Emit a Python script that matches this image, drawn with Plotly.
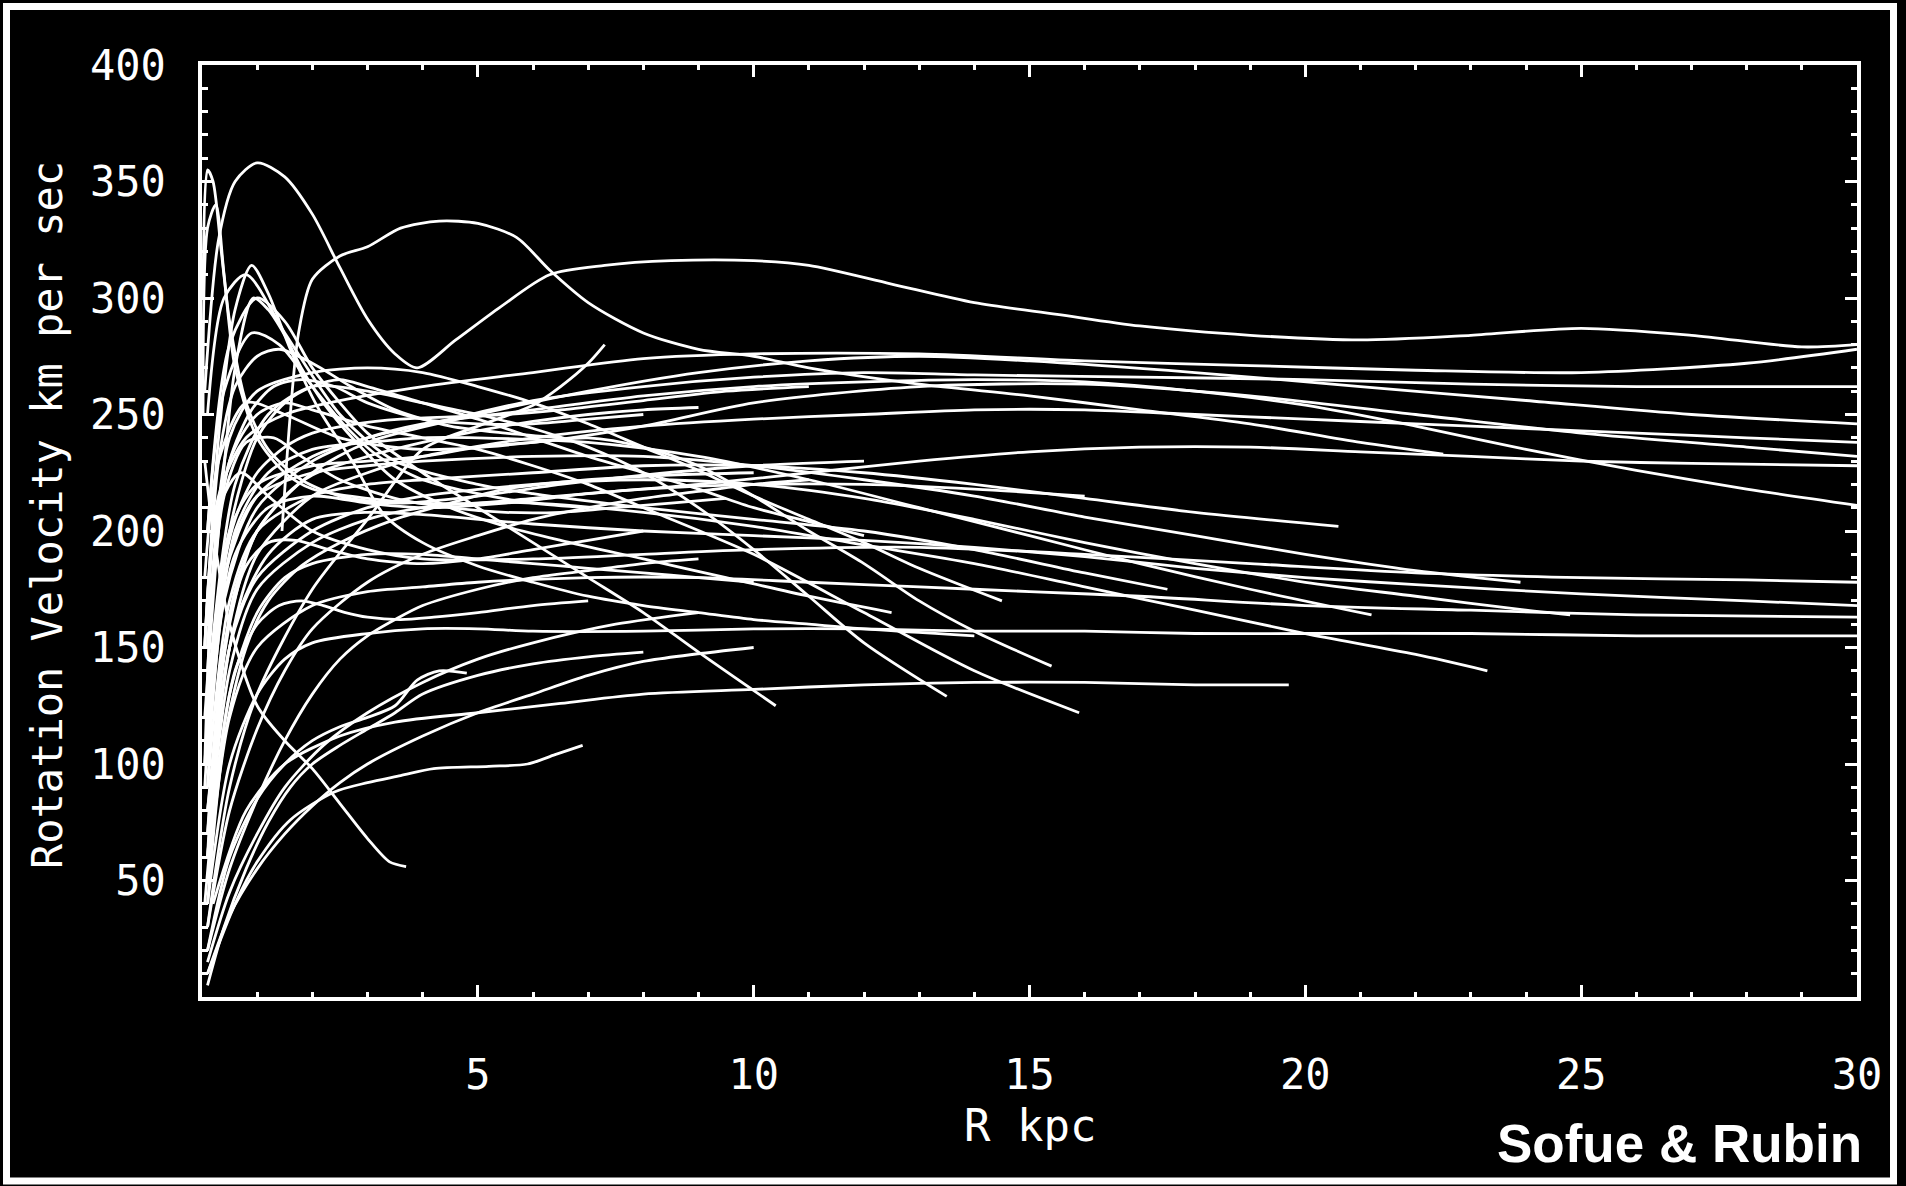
import plotly.graph_objects as go

# ---------------- data: rotation curves (R in kpc, V in km/s) ----------------
radius_01 = [0.05, 0.3, 0.6, 1.0, 1.5, 2.0, 2.5, 3.0, 3.5, 3.9, 4.6, 5.4, 6.3, 7.3, 8.5, 10, 11, 12.5, 14, 15.5, 17, 19, 21, 23, 25, 27, 29, 30]
velocity_01 = [260, 325, 350, 358, 352, 336, 313, 291, 276, 270, 282, 296, 310, 314, 316, 316, 314, 306, 298, 293, 288, 284, 282, 284, 287, 284, 279, 280]
radius_02 = [0.05, 0.3, 0.8, 1.5, 2.5, 4, 6, 8, 10, 13, 16, 19, 22, 25, 28, 30]
velocity_02 = [150, 215, 240, 250, 256, 262, 268, 274, 276, 276, 273, 271, 269, 268, 272, 278]
radius_03 = [0.05, 0.4, 1, 2, 3, 4.5, 6, 8, 10, 12, 14, 17, 20, 23, 26, 30]
velocity_03 = [100, 180, 215, 232, 240, 248, 256, 262, 266, 268, 267, 266, 265, 263, 262, 262]
radius_04 = [0.1, 0.5, 1, 2, 3, 5, 7, 9, 11, 13, 15, 18, 21, 24, 27, 30]
velocity_04 = [80, 160, 200, 225, 238, 250, 260, 268, 273, 275, 273, 268, 262, 256, 250, 246]
radius_05 = [0.1, 0.5, 1, 2, 3, 4, 6, 8, 10, 12, 14, 16, 18, 20, 22, 24, 26, 28, 30]
velocity_05 = [60, 150, 190, 215, 225, 232, 240, 245, 248, 250, 252, 252, 250, 248, 246, 244, 242, 240, 238]
radius_06 = [0.05, 0.3, 0.8, 1.5, 2.5, 4, 6, 8, 10, 13, 16, 19, 22, 25, 28, 30]
velocity_06 = [180, 230, 255, 250, 240, 235, 238, 245, 255, 262, 263, 258, 250, 242, 236, 232]
radius_07 = [0.1, 0.6, 1.2, 2, 3, 4, 5.5, 7, 9, 11, 13, 15, 17, 19, 21, 23, 25, 27, 30]
velocity_07 = [120, 190, 210, 215, 212, 210, 212, 216, 220, 225, 230, 234, 236, 236, 234, 232, 230, 229, 228]
radius_08 = [0.1, 0.4, 1, 2, 3, 4, 6, 8, 10, 12, 14, 16, 18, 20, 22, 24, 26, 28, 30]
velocity_08 = [90, 170, 210, 230, 240, 246, 252, 258, 262, 264, 265, 264, 260, 254, 245, 235, 226, 218, 211]
radius_09 = [0.05, 0.3, 0.7, 1.2, 2, 3, 4, 6, 8, 10, 13, 16, 19, 22, 25, 28, 30]
velocity_09 = [150, 210, 225, 215, 200, 192, 188, 188, 190, 192, 193, 190, 186, 182, 180, 179, 178]
radius_10 = [0.1, 0.5, 1, 2, 3, 4, 5, 7, 9, 11, 13, 15, 17, 20, 23, 26, 30]
velocity_10 = [50, 120, 150, 168, 174, 176, 178, 180, 180, 178, 176, 174, 172, 168, 166, 164, 163]
radius_11 = [0.1, 0.5, 1, 1.5, 2, 3, 4, 5, 6, 8, 10, 12, 14, 16, 18, 20, 23, 26, 30]
velocity_11 = [40, 100, 130, 145, 152, 156, 158, 158, 157, 157, 158, 158, 157, 157, 156, 156, 156, 155, 155]
radius_12 = [0.1, 0.6, 1.2, 2, 3, 4, 6, 8, 10, 12, 14, 16, 18, 20, 22, 25, 28, 30]
velocity_12 = [80, 160, 190, 205, 208, 207, 203, 200, 198, 196, 193, 189, 184, 180, 177, 173, 170, 168]
radius_13 = [0.1, 0.5, 1, 2, 3, 4, 5, 6, 8, 10, 12, 14, 16, 18, 20, 22, 23.3]
velocity_13 = [60, 140, 175, 195, 205, 210, 212, 212, 208, 202, 194, 186, 176, 166, 156, 147, 140]
radius_14 = [0.1, 0.5, 1, 2, 3, 4, 6, 8, 10, 12, 14, 16, 18, 20, 22, 24, 24.8]
velocity_14 = [70, 150, 180, 200, 210, 215, 220, 222, 220, 214, 205, 195, 186, 178, 172, 166, 164]
radius_15 = [0.1, 0.6, 1.2, 2, 3, 4, 5, 7, 9, 11, 13, 15, 17, 19, 21.2]
velocity_15 = [100, 200, 225, 235, 238, 240, 240, 238, 232, 222, 210, 198, 186, 175, 164]
radius_16 = [0.1, 0.5, 1, 2, 3, 4, 6, 8, 10, 12, 14, 16, 18, 20.6]
velocity_16 = [90, 170, 200, 215, 220, 222, 225, 228, 228, 225, 220, 214, 208, 202]
radius_17 = [0.2, 0.8, 1.5, 2.5, 3.5, 5, 6.5, 8, 10, 12, 14, 16, 18, 19.7]
velocity_17 = [40, 80, 100, 112, 118, 122, 126, 130, 132, 134, 135, 135, 134, 134]
radius_18 = [0.1, 0.5, 1, 1.5, 2, 3, 4, 5, 6, 7, 8, 10, 12, 14, 15.9]
velocity_18 = [150, 230, 250, 255, 252, 245, 240, 235, 228, 220, 210, 190, 165, 140, 122]
radius_19 = [0.1, 0.5, 1, 2, 3, 4, 5, 6, 7, 8, 9, 10, 11, 12, 13, 14, 15.4]
velocity_19 = [120, 200, 220, 228, 230, 232, 236, 238, 240, 236, 228, 215, 200, 186, 170, 157, 142]
radius_20 = [0.1, 0.6, 1.2, 2, 3, 4, 5, 6, 7, 8, 9, 10, 11, 12, 13.5]
velocity_20 = [130, 220, 250, 262, 260, 255, 250, 244, 236, 225, 210, 192, 172, 152, 129]
radius_21 = [0.1, 0.5, 1, 1.5, 2, 2.5, 3, 4, 5, 6, 7, 8, 9, 10.4]
velocity_21 = [200, 280, 300, 290, 270, 255, 242, 225, 210, 195, 180, 165, 148, 125]
radius_22 = [0.1, 0.5, 1, 2, 3, 4, 6, 8, 10, 12, 14, 16, 18, 20, 22, 23.9]
velocity_22 = [110, 190, 215, 225, 228, 230, 232, 232, 228, 222, 215, 206, 198, 190, 183, 178]
radius_23 = [0.1, 0.4, 0.8, 1.5, 2.5, 3.5, 5, 6, 8, 10, 12, 14, 16, 17.5]
velocity_23 = [250, 300, 310, 285, 250, 230, 220, 216, 210, 205, 200, 192, 182, 175]
radius_24 = [0.05, 0.2, 0.5, 1, 1.5, 2, 2.5, 3, 3.4, 3.7]
velocity_24 = [230, 200, 160, 125, 110, 98, 83, 68, 58, 56]
radius_25 = [0.1, 0.5, 1.0, 1.5, 2.0, 2.5, 3.0, 3.5, 3.9, 4.3, 4.8]
velocity_25 = [20, 60, 85, 100, 110, 116, 120, 125, 136, 140, 139]
radius_26 = [0.1, 0.6, 1.0, 1.6, 2.4, 3.0, 3.6, 4.2, 5.2, 5.9, 6.4, 6.9]
velocity_26 = [10, 40, 58, 76, 88, 92, 95, 98, 99, 100, 104, 108]
radius_27 = [0.1, 0.5, 1, 2, 3, 4, 5, 6, 6.5, 7, 7.3]
velocity_27 = [30, 90, 130, 175, 205, 235, 245, 254, 262, 272, 280]
radius_28 = [0.05, 0.3, 0.6, 0.9, 1.2, 1.6, 2.1, 2.75, 3.3, 4, 5, 6, 7, 8, 9, 10, 11, 12, 14]
velocity_28 = [150, 240, 295, 314, 302, 278, 253, 229, 207, 195, 185, 178, 172, 168, 165, 162, 160, 158, 155]
radius_29 = [0.05, 0.3, 0.6, 0.93, 1.2, 1.5, 1.8, 2.2, 2.8, 3.5, 4.5, 5.5, 6.5, 8, 9.5, 11, 12.5]
velocity_29 = [120, 200, 270, 300, 295, 284, 270, 255, 238, 222, 210, 202, 196, 188, 180, 172, 165]
radius_30 = [0.02, 0.1, 0.2, 0.35, 0.5, 0.8, 1.2, 1.8, 2.5, 3.5, 5, 6.5, 8, 10, 12]
velocity_30 = [300, 355, 350, 320, 290, 255, 235, 222, 215, 212, 215, 220, 224, 228, 230]
radius_31 = [0.02, 0.1, 0.25, 0.4, 0.6, 1, 1.5, 2, 3, 4, 5, 6, 8, 10, 12, 14, 16]
velocity_31 = [250, 330, 340, 310, 270, 240, 225, 218, 214, 212, 212, 214, 218, 220, 220, 218, 215]
radius_32 = [0.1, 0.4, 0.8, 1.2, 1.8, 2.5, 3.5, 4.5, 5.5, 7, 8.5, 10]
velocity_32 = [40, 110, 150, 170, 185, 195, 205, 212, 218, 222, 224, 225]
radius_33 = [0.1, 0.3, 0.6, 1, 1.5, 2, 3, 4, 5, 6, 7, 8, 9]
velocity_33 = [60, 130, 175, 200, 215, 224, 232, 238, 243, 247, 250, 252, 253]
radius_34 = [0.1, 0.5, 1, 1.5, 2, 2.5, 3, 4, 5, 6, 7, 8, 9, 10, 11, 12]
velocity_34 = [100, 200, 240, 255, 262, 265, 262, 255, 248, 240, 232, 225, 218, 210, 204, 198]
radius_35 = [0.05, 0.2, 0.5, 0.9, 1.3, 1.8, 2.4, 3, 4, 5, 6, 7, 8]
velocity_35 = [100, 180, 230, 252, 262, 265, 262, 255, 248, 246, 246, 248, 250]
radius_36 = [0.1, 0.5, 1, 1.5, 2, 3, 4, 5, 6, 7, 8, 9, 10, 11]
velocity_36 = [30, 80, 115, 140, 158, 178, 190, 198, 205, 210, 214, 217, 220, 222]
radius_37 = [0.1, 0.4, 0.8, 1.2, 1.7, 2.3, 3, 4, 5, 6, 7, 8]
velocity_37 = [70, 150, 185, 195, 196, 192, 188, 186, 188, 192, 196, 200]
radius_38 = [0.1, 0.5, 1, 1.5, 2, 2.5, 3, 3.5, 4, 5, 6, 7, 8, 9]
velocity_38 = [20, 55, 85, 110, 130, 145, 155, 162, 168, 175, 180, 183, 186, 188]
radius_39 = [0.1, 0.4, 0.8, 1.3, 1.8, 2.5, 3.5, 4.5, 5.5, 6.5, 7.5, 8.5, 9.5]
velocity_39 = [140, 215, 238, 240, 232, 222, 214, 210, 208, 208, 210, 212, 214]
radius_40 = [0.1, 0.3, 0.6, 1, 1.4, 2, 2.7, 3.5, 4.5, 5.5, 6.5]
velocity_40 = [160, 230, 262, 275, 278, 272, 262, 252, 245, 242, 240]
radius_41 = [0.1, 0.5, 1.0, 1.5, 2.0, 3.0, 4.0, 5.0, 6.0, 7.0, 8.0, 9.0, 10.0]
velocity_41 = [50, 130, 165, 180, 186, 190, 190, 188, 186, 184, 182, 180, 178]
radius_42 = [0.1, 0.5, 1.0, 1.5, 2.2, 3.0, 4.0, 5.0, 6.0, 7.5, 9.0]
velocity_42 = [15, 45, 70, 90, 108, 122, 135, 145, 152, 160, 165]
radius_43 = [0.1, 0.4, 0.9, 1.4, 2.0, 2.6, 3.2, 4.0, 5.0, 6.0, 7.0]
velocity_43 = [200, 260, 285, 280, 262, 245, 232, 222, 216, 212, 210]
radius_44 = [0.05, 0.3, 0.6, 1.0, 1.5, 2.0, 2.8, 3.6, 4.5, 5.5, 6.5, 8.0, 9.5, 11.0]
velocity_44 = [90, 170, 205, 225, 236, 242, 246, 248, 249, 250, 252, 256, 260, 262]
radius_45 = [0.1, 0.5, 1, 1.5, 2, 2.5, 3, 4, 5, 6, 7, 8, 10]
velocity_45 = [10, 35, 55, 70, 82, 92, 100, 112, 122, 130, 138, 144, 150]
radius_46 = [0.1, 0.4, 0.8, 1.2, 1.6, 2.0, 2.5, 3.0, 3.5, 4.0, 5.0, 6.0, 7.0, 8.0]
velocity_46 = [5, 30, 55, 75, 90, 100, 108, 115, 122, 130, 138, 143, 146, 148]
radius_47 = [0.05, 0.3, 0.6, 1.0, 1.4, 1.8, 2.2, 2.6, 3.0, 3.6, 4.2, 5.0, 6.0, 7.0]
velocity_47 = [40, 100, 140, 160, 168, 170, 168, 165, 163, 162, 163, 165, 168, 170]
radius_48 = [0.1, 0.5, 1, 2, 3, 4, 5, 6, 7, 8, 9, 10, 11, 12, 13, 14.5]
velocity_48 = [150, 240, 260, 268, 270, 268, 262, 255, 246, 236, 226, 215, 205, 195, 184, 170]
radius_49 = [1.45, 1.6, 1.75, 2.0, 2.5, 3.0, 3.6, 4.3, 5.0, 5.7, 6.3, 7.0, 8.0, 9.0, 10, 11, 13, 15, 17, 19, 21, 22.5]
velocity_49 = [200, 250, 285, 308, 318, 322, 330, 333, 332, 326, 312, 298, 285, 278, 275, 270, 263, 258, 252, 246, 238, 233]

x_tick_values = [5, 10, 15, 20, 25, 30]
y_tick_values = [50, 100, 150, 200, 250, 300, 350, 400]
x_range = [0, 30]
y_range = [0, 400]

curves = [
    (radius_01, velocity_01), (radius_02, velocity_02), (radius_03, velocity_03), (radius_04, velocity_04),
    (radius_05, velocity_05), (radius_06, velocity_06), (radius_07, velocity_07), (radius_08, velocity_08),
    (radius_09, velocity_09), (radius_10, velocity_10), (radius_11, velocity_11), (radius_12, velocity_12),
    (radius_13, velocity_13), (radius_14, velocity_14), (radius_15, velocity_15), (radius_16, velocity_16),
    (radius_17, velocity_17), (radius_18, velocity_18), (radius_19, velocity_19), (radius_20, velocity_20),
    (radius_21, velocity_21), (radius_22, velocity_22), (radius_23, velocity_23), (radius_24, velocity_24),
    (radius_25, velocity_25), (radius_26, velocity_26), (radius_27, velocity_27), (radius_28, velocity_28),
    (radius_29, velocity_29), (radius_30, velocity_30), (radius_31, velocity_31), (radius_32, velocity_32),
    (radius_33, velocity_33), (radius_34, velocity_34), (radius_35, velocity_35), (radius_36, velocity_36),
    (radius_37, velocity_37), (radius_38, velocity_38), (radius_39, velocity_39), (radius_40, velocity_40),
    (radius_41, velocity_41), (radius_42, velocity_42), (radius_43, velocity_43), (radius_44, velocity_44),
    (radius_45, velocity_45), (radius_46, velocity_46), (radius_47, velocity_47), (radius_48, velocity_48),
    (radius_49, velocity_49),
]

# ---------------- figure ----------------
W, H = 1906, 1186
L, R, T, B = 202, 49, 65, 189
PW, PH = W - L - R, H - T - B

def px_x(p):
    return (p - L) / PW

def px_y(p):
    return (H - B - p) / PH

fig = go.Figure()
for rr, vv in curves:
    fig.add_trace(go.Scatter(
        x=rr, y=vv, mode="lines",
        line=dict(color="white", width=2.8, shape="spline", smoothing=0.8),
        hoverinfo="skip", showlegend=False,
    ))

axis_font = dict(family="DejaVu Sans Mono", size=42, color="white")

fig.update_layout(
    width=W, height=H,
    margin=dict(l=L, r=R, t=T, b=B),
    paper_bgcolor="#000000",
    plot_bgcolor="#000000",
    showlegend=False,
    xaxis=dict(
        range=x_range, showgrid=False, zeroline=False,
        showline=True, linecolor="white", linewidth=3.5, mirror="allticks",
        ticks="inside", ticklen=12, tickwidth=2.5, tickcolor="white",
        tickmode="array", tickvals=x_tick_values, ticktext=[str(v) for v in x_tick_values],
        tickfont=axis_font, ticklabelstandoff=38,
        minor=dict(tickmode="linear", tick0=0, dtick=1, ticks="inside", ticklen=5,
                   tickwidth=2.5, tickcolor="white", showgrid=False),
    ),
    yaxis=dict(
        range=y_range, showgrid=False, zeroline=False,
        showline=True, linecolor="white", linewidth=3.5, mirror="allticks",
        ticks="inside", ticklen=12, tickwidth=2.5, tickcolor="white",
        tickmode="array", tickvals=y_tick_values, ticktext=[str(v) for v in y_tick_values],
        tickfont=axis_font, ticklabelstandoff=24,
        minor=dict(tickmode="linear", tick0=0, dtick=10, ticks="inside", ticklen=6,
                   tickwidth=2.5, tickcolor="white", showgrid=False),
    ),
)

# outer white frame
fig.add_shape(
    type="rect", xref="paper", yref="paper",
    x0=px_x(6.5), x1=px_x(1893.5), y0=px_y(1181), y1=px_y(6.5),
    line=dict(color="white", width=7), fillcolor="rgba(0,0,0,0)", layer="above",
)

# axis titles
fig.add_annotation(
    text="Rotation Velocity km per sec", xref="paper", yref="paper",
    x=px_x(47), y=px_y(515), textangle=-90, showarrow=False,
    xanchor="center", yanchor="middle",
    font=dict(family="DejaVu Sans Mono", size=42, color="white"),
)
fig.add_annotation(
    text="R kpc", xref="paper", yref="paper",
    x=px_x(1030), y=px_y(1125), showarrow=False,
    xanchor="center", yanchor="middle",
    font=dict(family="DejaVu Sans Mono", size=44, color="white"),
)
fig.add_annotation(
    text="Sofue & Rubin", xref="paper", yref="paper",
    x=px_x(1864), y=px_y(1143), showarrow=False,
    xanchor="right", yanchor="middle",
    font=dict(family="Liberation Sans", size=53, color="white", weight="bold"),
)

fig.write_html("out.html")
